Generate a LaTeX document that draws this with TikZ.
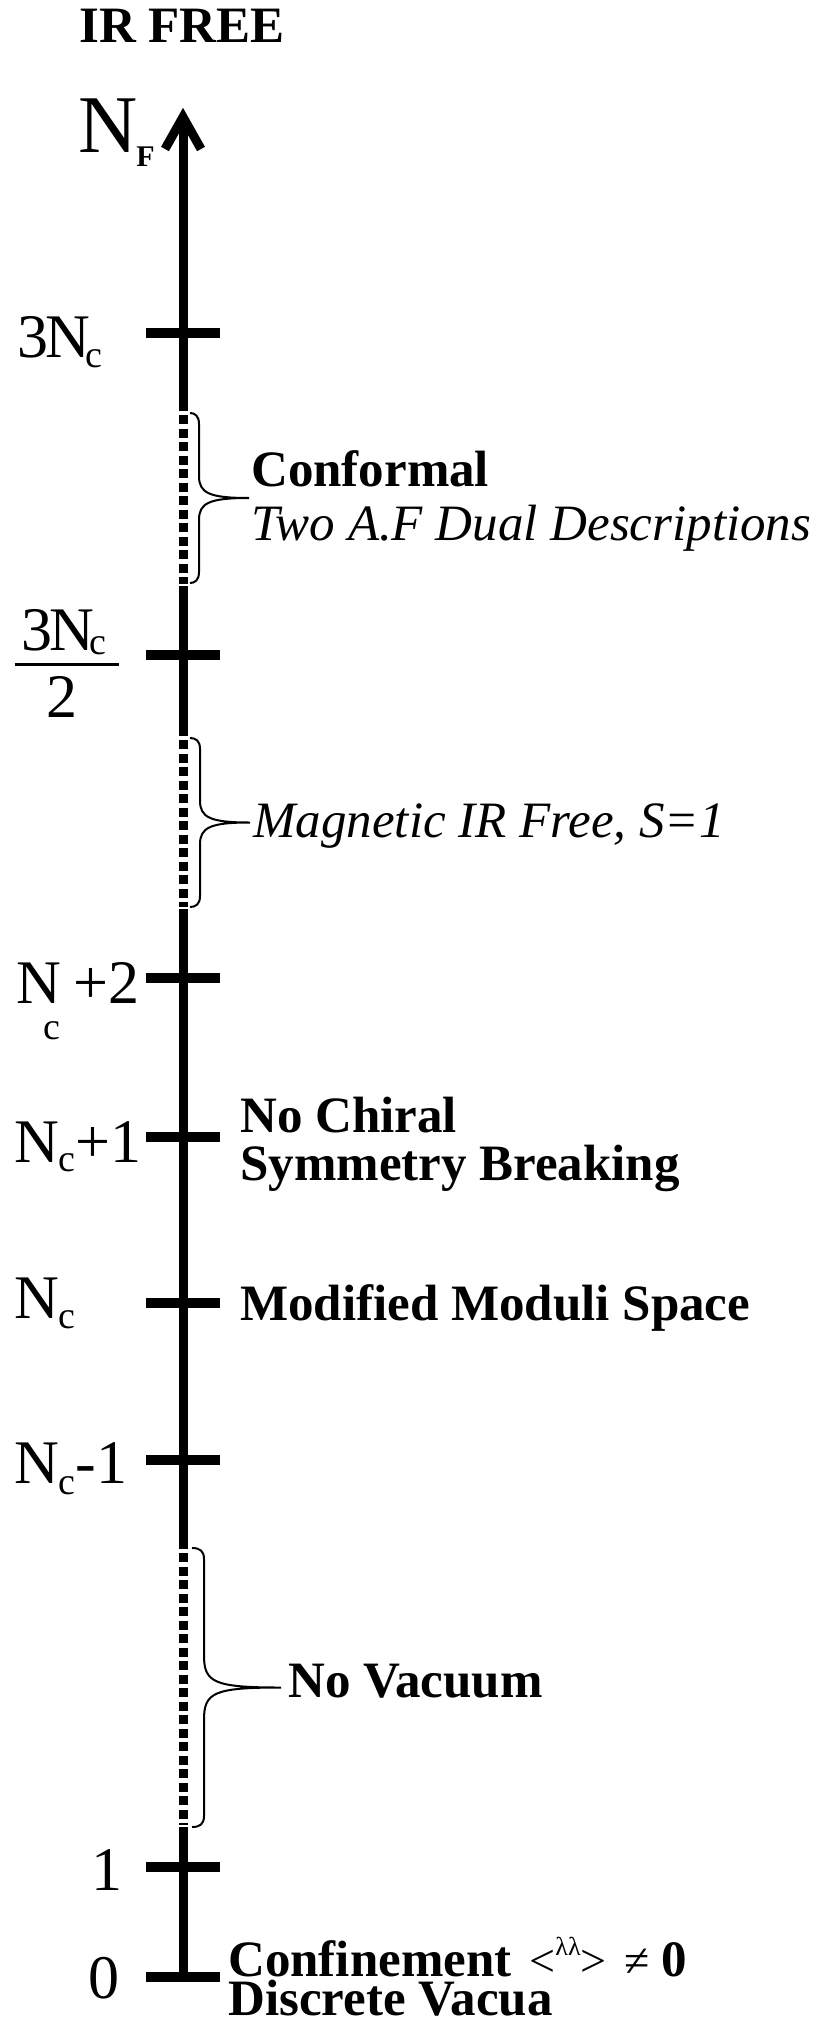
\documentclass[tikz,border=0pt]{standalone}
\usepackage{fontspec}
\setmainfont{Liberation Serif}
\newcommand\drawbrace[6]{%
  \pgfmathsetmacro\bym{(#4+#5)/2}%
  \draw[br] (#1,#4) .. controls ({#2-4},#4) and (#2,{#4+3}) .. (#2,{#4+11})
    -- (#2,{\bym-#6}) .. controls (#2,{\bym-5}) and ({#2+10},\bym) .. (#3,\bym)
    .. controls ({#2+10},\bym) and (#2,{\bym+5}) .. (#2,{\bym+#6})
    -- (#2,{#5-11}) .. controls (#2,{#5-3}) and ({#2-4},#5) .. (#1,#5);
}
\newcommand\subc[1]{\raisebox{-#1pt}{\fontsize{38}{38}\selectfont c}}
\begin{document}
\begin{tikzpicture}[x=1pt,y=-1pt,
  ax/.style={line width=9pt},
  tk/.style={line width=10pt},
  dsh/.style={line width=9pt, dash pattern=on 9pt off 4.5pt},
  br/.style={line width=2pt},
  lab/.style={inner sep=0pt, anchor=base west, font=\fontsize{62}{62}\selectfont},
  bt/.style={inner sep=0pt, anchor=base west, font=\fontsize{51}{51}\selectfont\bfseries},
  it/.style={inner sep=0pt, anchor=base west, font=\fontsize{51}{51}\selectfont\itshape}]
\useasboundingbox (0,0) rectangle (828,2025);

% tick positions
\foreach \n/\y in {t3/333, th/655, tp2/978, tp1/1137, tn/1303, tm1/1460, tone/1867, tzero/1977}
  \coordinate (\n) at (183,\y);

% axis
\coordinate (top) at (183,117);
\draw[ax] (tzero) -- (183,1827);
\draw[dsh] (183,1553) -- (183,1825);
\draw[ax] (183,1549) -- (183,909);
\draw[dsh] (183,740) -- (183,907);
\draw[ax] (183,736) -- (183,586);
\draw[dsh] (183,415) -- (183,584);
\draw[ax] (183,411) -- (top);
\draw[ax, miter limit=10] (165,149) -- (top) -- (201,149);

% ticks
\foreach \n in {t3, th, tp2, tp1, tn, tm1, tone, tzero}
  \draw[tk] ([xshift=-37pt]\n) -- ([xshift=37pt]\n);

% braces
\drawbrace{190}{199}{249}{413}{583}{22}
\drawbrace{190}{200}{250}{738}{907}{22}
\drawbrace{192}{204}{281}{1548}{1827}{32}

% title and axis label
\node[bt] (irfree) at (79,43) {IR FREE};
\node[inner sep=0pt, anchor=base west, font=\fontsize{82}{82}\selectfont] (nf) at (78,153) {N\kern-1pt\raisebox{-14pt}{\fontsize{30}{30}\selectfont\bfseries F}};

% left labels
\node[lab] (l3) at (17,357) {3\kern-3pt N\kern-4pt\subc{10}};
\node[lab] (fnum) at (21,650) {3\kern-3pt N\kern-4pt\subc{4}};
\draw[line width=3pt] (15,664) -- (119,664);
\node[lab] (fden) at (46,717) {2};
\node[lab] (lp2) at (16,1003) {N\kern-17pt\subc{36}\kern13pt +2};
\node[lab] (lp1) at (14,1162) {N\subc{9}+1};
\node[lab] (ln) at (14,1318) {N\subc{10}};
\node[lab] (lm1) at (14,1483) {N\subc{11}-1};
\node[lab] (lone) at (91,1890) {1};
\node[lab] (lzero) at (88,1998) {0};

% right texts
\node[bt] (conf) at (251,486) {Conformal};
\node[it] (dual) at (251,540) {Two A.F Dual Descriptions};
\node[it] (mag) at (253,837) {Magnetic IR Free, S=1};
\node[bt] (nochi) at (240,1132) {No Chiral};
\node[bt] (symm) at (240,1180) {Symmetry Breaking};
\node[bt] (modu) at (240,1320) {Modified Moduli Space};
\node[bt] (novac) at (288,1697) {No Vacuum};
\node[bt] (confi) at (228,1976) {Confinement\hspace{18pt}{\mdseries\fontsize{46}{46}\selectfont<\raisebox{21pt}{\fontsize{26}{26}\selectfont λλ}>\hspace{18pt}≠}\hspace{12pt}0};
\node[bt] (disc) at (228,2015) {Discrete Vacua};
\end{tikzpicture}
\end{document}
